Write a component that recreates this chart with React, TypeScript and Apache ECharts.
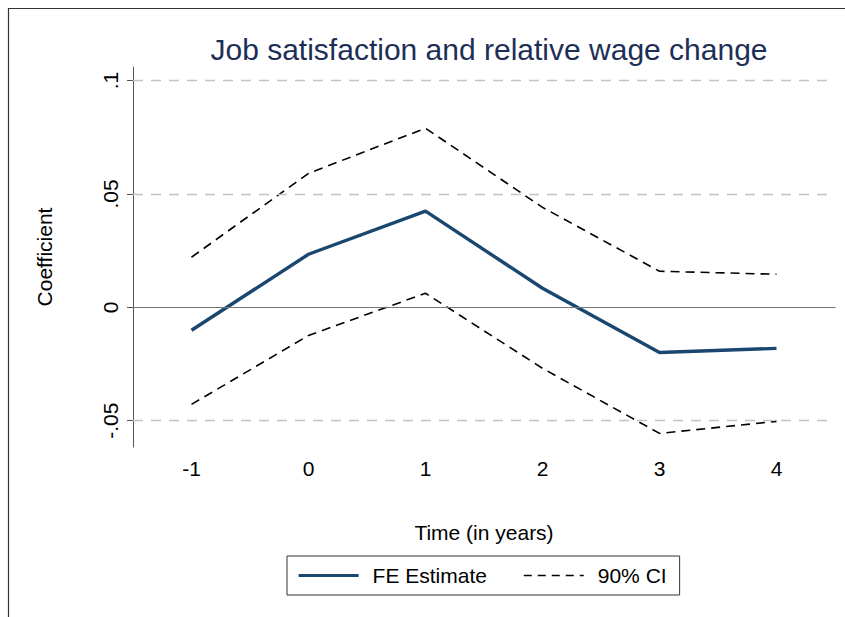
import React, { useEffect, useRef } from "react";
import * as echarts from "echarts";

const categories = ["-1", "0", "1", "2", "3", "4"];
const feEstimate = [-0.0101, 0.0234, 0.0424, 0.0084, -0.0199, -0.0181];
const ciUpper = [0.0221, 0.0591, 0.079, 0.0441, 0.0159, 0.0146];
const ciLower = [-0.0428, -0.0124, 0.0062, -0.0269, -0.0556, -0.0503];
const yTicks = [-0.05, 0, 0.05, 0.1];
const yTickLabels = ["-.05", "0", ".05", ".1"];
const gridValues = [0.1, 0.05, -0.05];
const zeroValue = 0;

const FONT = "Liberation Sans, Arial, sans-serif";
const FE_COLOR = "#1a476f";

export default function App() {
  const ref = useRef<HTMLDivElement>(null);
  useEffect(() => {
    if (!ref.current) return;
    const chart = echarts.init(ref.current, null, { renderer: "svg" });
    const fmt = (v: number) => {
      const i = yTicks.findIndex((t) => Math.abs(t - v) < 1e-9);
      return i >= 0 ? yTickLabels[i] : "";
    };
    chart.setOption({
      animation: false,
      backgroundColor: "#ffffff",
      textStyle: { fontFamily: FONT },
      title: {
        text: "Job satisfaction and relative wage change",
        left: 484,
        textAlign: "center",
        top: 29,
        textStyle: { fontFamily: FONT, fontSize: 30, fontWeight: "normal", color: "#1e2f57" },
      },
      graphic: [
        {
          type: "rect",
          shape: { x: 8.5, y: 8.5, width: 900, height: 700 },
          style: { fill: "none", stroke: "#333", lineWidth: 1.2 },
          silent: true,
          z: 0,
        },
      ],
      grid: { left: 133, right: 10, top: 67, bottom: 170 },
      legend: {
        left: 287,
        top: 556,
        orient: "horizontal",
        padding: [9, 13, 9, 10],
        borderColor: "#333",
        borderWidth: 1,
        itemWidth: 60,
        itemHeight: 14,
        itemGap: 36,
        itemStyle: { opacity: 0 },
        textStyle: { fontFamily: FONT, fontSize: 21, color: "#000", padding: [0, 0, 0, 9] },
        data: [
          { name: "FE Estimate", lineStyle: { width: 3.2, color: FE_COLOR } },
          { name: "90% CI", lineStyle: { width: 1.6, color: "#000", type: [8, 6] } },
        ],
      },
      xAxis: {
        type: "category",
        data: categories,
        boundaryGap: true,
        name: "Time (in years)",
        nameLocation: "middle",
        nameGap: 75,
        nameTextStyle: { fontFamily: FONT, fontSize: 21, color: "#000" },
        axisLine: { lineStyle: { color: "#222", width: 1 } },
        axisTick: { alignWithLabel: true, length: 6, lineStyle: { color: "#222" } },
        axisLabel: { fontFamily: FONT, fontSize: 21, color: "#000", margin: 11 },
        splitLine: { show: false },
      },
      yAxis: {
        type: "value",
        min: -0.0616,
        max: 0.106,
        name: "Coefficient",
        nameLocation: "middle",
        nameGap: 78,
        nameTextStyle: { fontFamily: FONT, fontSize: 21, color: "#000" },
        axisLine: { show: true, lineStyle: { color: "#555", width: 1 } },
        axisTick: { show: true, length: 6, customValues: yTicks, lineStyle: { color: "#555" } },
        axisLabel: {
          fontFamily: FONT,
          fontSize: 21,
          color: "#000",
          rotate: 90,
          margin: 12,
          customValues: yTicks,
          formatter: fmt,
        },
        splitLine: { show: false },
      },
      series: [
        {
          name: "grid",
          type: "line",
          data: [],
          silent: true,
          z: 1,
          markLine: {
            silent: true,
            symbol: "none",
            label: { show: false },
            animation: false,
            data: [
              ...gridValues.map((v) => ({
                yAxis: v,
                lineStyle: { color: "#c4c4c4", type: [10, 8], width: 1.3 },
              })),
              { yAxis: zeroValue, lineStyle: { color: "#777", type: "solid", width: 1 } },
            ],
          },
        },
        {
          name: "90% CI",
          type: "line",
          data: ciUpper,
          symbol: "none",
          z: 3,
          lineStyle: { color: "#000", width: 1.6, type: [9, 6] },
          itemStyle: { color: "#000" },
        },
        {
          name: "90% CI",
          type: "line",
          data: ciLower,
          symbol: "none",
          z: 3,
          lineStyle: { color: "#000", width: 1.6, type: [9, 6] },
          itemStyle: { color: "#000" },
        },
        {
          name: "FE Estimate",
          type: "line",
          data: feEstimate,
          symbol: "none",
          z: 4,
          lineStyle: { color: FE_COLOR, width: 3.4 },
          itemStyle: { color: FE_COLOR },
        },
      ],
    });
    return () => chart.dispose();
  }, []);
  return (
    <div
      ref={ref}
      style={{ position: "fixed", left: 0, top: 0, width: 845, height: 617, background: "#fff" }}
    />
  );
}
